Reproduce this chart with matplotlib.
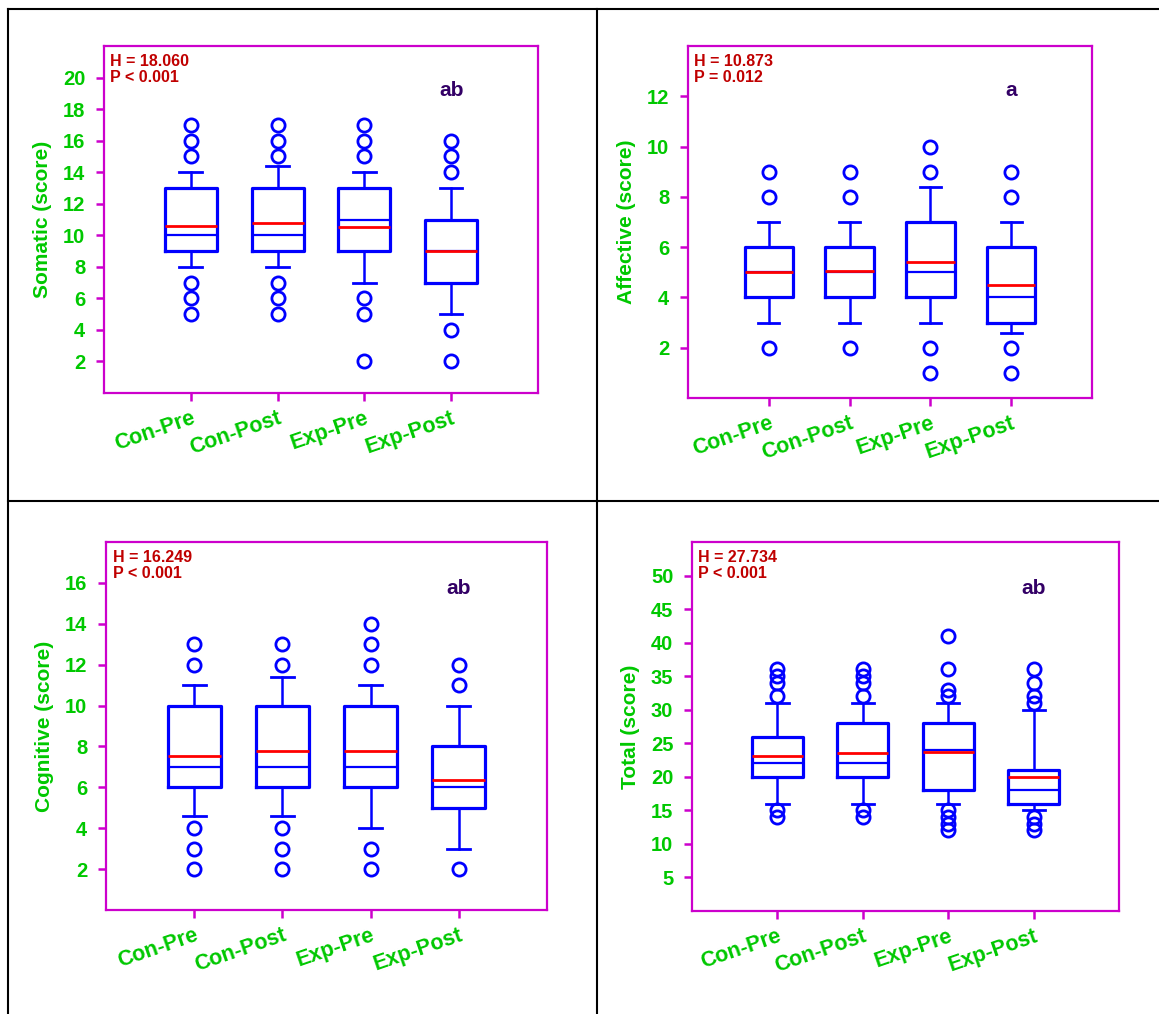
import matplotlib
matplotlib.use("Agg")
import matplotlib.pyplot as plt
from matplotlib.lines import Line2D
import matplotlib.transforms as mtransforms

plt.rcParams['font.family'] = ['Liberation Sans', 'DejaVu Sans']
plt.rcParams['font.weight'] = 'bold'

groups = ["Con-Pre", "Con-Post", "Exp-Pre", "Exp-Post"]

# Somatic
som_med = [10, 10, 11, 9]
som_q1 = [9, 9, 9, 7]
som_q3 = [13, 13, 13, 11]
som_lo = [8, 8, 7, 5]
som_hi = [14, 14.4, 14, 13]
som_mean = [10.6, 10.75, 10.5, 9.0]
som_fliers = [[5, 6, 7, 15, 16, 17], [5, 6, 7, 15, 16, 17],
              [2, 5, 6, 15, 16, 17], [2, 4, 14, 15, 16]]

# Affective
aff_med = [5, 5, 5, 4]
aff_q1 = [4, 4, 4, 3]
aff_q3 = [6, 6, 7, 6]
aff_lo = [3, 3, 3, 2.6]
aff_hi = [7, 7, 8.4, 7]
aff_mean = [5.0, 5.07, 5.4, 4.5]
aff_fliers = [[2, 8, 9], [2, 8, 9], [1, 2, 9, 10], [1, 2, 8, 9]]

# Cognitive
cog_med = [7, 7, 7, 6]
cog_q1 = [6, 6, 6, 5]
cog_q3 = [10, 10, 10, 8]
cog_lo = [4.6, 4.6, 4, 3]
cog_hi = [11, 11.4, 11, 10]
cog_mean = [7.55, 7.78, 7.8, 6.35]
cog_fliers = [[2, 3, 4, 12, 13], [2, 3, 4, 12, 13],
              [2, 3, 12, 13, 14], [2, 11, 12]]

# Total
tot_med = [22, 22, 24, 18]
tot_q1 = [20, 20, 18, 16]
tot_q3 = [26, 28, 28, 21]
tot_lo = [16, 16, 16, 15]
tot_hi = [31, 31, 31, 30]
tot_mean = [23.1, 23.6, 23.7, 19.9]
tot_fliers = [[14, 15, 32, 34, 35, 36], [14, 15, 32, 34, 35, 36],
              [12, 13, 14, 15, 32, 33, 36, 41], [12, 13, 14, 31, 32, 34, 36]]

panels = [
    dict(name="Somatic (score)", med=som_med, q1=som_q1, q3=som_q3, lo=som_lo, hi=som_hi,
         mean=som_mean, fl=som_fliers, ylim=(0, 22), yticks=list(range(2, 21, 2)),
         H="H = 18.060", P="P < 0.001", sig="ab",
         rect=[0.0897, 0.6124, 0.4642 - 0.0897, 0.9546 - 0.6124]),
    dict(name="Affective (score)", med=aff_med, q1=aff_q1, q3=aff_q3, lo=aff_lo, hi=aff_hi,
         mean=aff_mean, fl=aff_fliers, ylim=(0, 14), yticks=list(range(2, 13, 2)),
         H="H = 10.873", P="P = 0.012", sig="a",
         rect=[0.5936, 0.6075, 0.9422 - 0.5936, 0.9546 - 0.6075]),
    dict(name="Cognitive (score)", med=cog_med, q1=cog_q1, q3=cog_q3, lo=cog_lo, hi=cog_hi,
         mean=cog_mean, fl=cog_fliers, ylim=(0, 18), yticks=list(range(2, 17, 2)),
         H="H = 16.249", P="P < 0.001", sig="ab",
         rect=[0.0915, 0.1026, 0.4720 - 0.0915, 0.4655 - 0.1026]),
    dict(name="Total (score)", med=tot_med, q1=tot_q1, q3=tot_q3, lo=tot_lo, hi=tot_hi,
         mean=tot_mean, fl=tot_fliers, ylim=(0, 55), yticks=list(range(5, 51, 5)),
         H="H = 27.734", P="P < 0.001", sig="ab",
         rect=[0.5971, 0.1016, 0.9655 - 0.5971, 0.4655 - 0.1016]),
]

GREEN = '#00C800'
MAG = '#CC00CC'
BLUE = '#0000FF'

fig = plt.figure(figsize=(11.59, 10.14), dpi=100)

for p in panels:
    ax = fig.add_axes(p['rect'])
    stats = []
    for i in range(4):
        stats.append(dict(med=p['med'][i], q1=p['q1'][i], q3=p['q3'][i],
                          whislo=p['lo'][i], whishi=p['hi'][i],
                          mean=p['mean'][i], fliers=p['fl'][i], label=groups[i]))
    ax.bxp(stats, positions=[1, 2, 3, 4], widths=0.6, capwidths=0.26,
           showmeans=True, meanline=True, showfliers=True,
           boxprops=dict(color=BLUE, linewidth=2.3),
           whiskerprops=dict(color=BLUE, linewidth=1.8),
           capprops=dict(color=BLUE, linewidth=2.0),
           medianprops=dict(color=BLUE, linewidth=1.6),
           meanprops=dict(color='#FF0000', linestyle='-', linewidth=2.0, zorder=4),
           flierprops=dict(marker='o', markerfacecolor='none', markeredgecolor=BLUE,
                           markersize=9.5, markeredgewidth=2.0))
    ax.set_xlim(0, 5)
    ax.set_ylim(*p['ylim'])
    ax.set_yticks(p['yticks'])
    ax.set_yticklabels([str(v) for v in p['yticks']])
    ax.set_xticks([1, 2, 3, 4])
    ax.set_xticklabels(groups, rotation=19, ha='right', rotation_mode='anchor')
    for s in ax.spines.values():
        s.set_color(MAG)
        s.set_linewidth(1.6)
    ax.tick_params(axis='both', colors=MAG, width=1.8, length=5.5, labelcolor=GREEN,
                   direction='out')
    ax.tick_params(axis='y', labelsize=14.5, pad=8)
    ax.tick_params(axis='x', labelsize=15.5, pad=5)
    for lab in ax.get_xticklabels() + ax.get_yticklabels():
        lab.set_fontweight('bold')
    ax.set_ylabel(p['name'], color=GREEN, fontsize=15, fontweight='bold', labelpad=8)
    ax.text(0.015, 0.978, p['H'] + "\n" + p['P'], transform=ax.transAxes,
            ha='left', va='top', color='#C00000', fontsize=11.5, fontweight='bold',
            linespacing=1.1)
    trans = mtransforms.blended_transform_factory(ax.transData, ax.transAxes)
    ax.text(4, 0.873, p['sig'], transform=trans, ha='center', va='center',
            color='#330066', fontsize=15, fontweight='bold')

# table grid lines
lw = 1.5
top_y = 1 - 9 / 1014
left_x = 8 / 1159
mid_x = 597 / 1159
mid_y = 1 - 501 / 1014
fig.add_artist(Line2D([left_x, 1.0], [top_y, top_y], color='black', lw=lw, transform=fig.transFigure))
fig.add_artist(Line2D([left_x, left_x], [0, top_y], color='black', lw=lw, transform=fig.transFigure))
fig.add_artist(Line2D([mid_x, mid_x], [0, top_y], color='black', lw=lw, transform=fig.transFigure))
fig.add_artist(Line2D([left_x, 1.0], [mid_y, mid_y], color='black', lw=lw, transform=fig.transFigure))

fig.savefig("out.png", dpi=100)
